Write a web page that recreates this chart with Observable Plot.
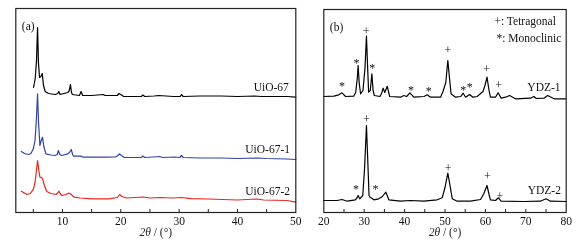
<!DOCTYPE html>
<html><head><meta charset="utf-8">
<script src="https://cdn.jsdelivr.net/npm/d3@7"></script>
<script src="https://cdn.jsdelivr.net/npm/@observablehq/plot@0.6"></script>
<style>
body{margin:0;background:#fff;}
#wrap{position:relative;width:577px;height:245px;overflow:hidden;}
#a{position:absolute;left:0;top:0;}
#b{position:absolute;left:310px;top:0;}
svg{will-change:transform;}
</style></head><body><div id="wrap"><div id="a"></div><div id="b"></div></div>
<script>
// ---------- Panel (a): UiO-67 series, [2θ, intensity (a.u., stacked)] ----------
const uio67 = [[5.04,125],[5.33,134],[5.55,152],[5.73,185],[5.88,150],[6.07,135],[6.3,136],[6.53,139],[6.75,127],[7.04,121],[7.6,119],[8.75,118],[9.2,119],[9.38,121],[9.6,118],[10.9,120],[11.1,121],[11.2,123],[11.37,128],[11.55,120],[11.7,118],[12.9,117],[13.2,121],[13.45,117],[15,117],[17.0,118],[17.3,117],[19.4,117],[19.7,119],[20.0,118],[20.5,116],[23.5,116],[23.8,117.5],[24.1,116],[25.7,116.5],[26.5,117],[29,116],[30.2,116],[30.4,118],[30.7,116],[33.5,116.5],[37.2,116.5],[40,116],[43,116.5],[44,116],[48.5,116],[50,115.3]];
const uio67_1 = [[2.94,61],[3.5,59],[4.2,58],[4.6,59],[5.0,63.7],[5.3,72],[5.5,90],[5.73,118.7],[5.9,90],[6.13,67],[6.35,72],[6.58,75.3],[6.8,66],[7.16,58.7],[8,57.5],[8.75,57],[9.1,58],[9.3,62],[9.55,58],[9.9,57],[10.9,58.7],[11.2,60],[11.5,63],[11.75,58],[11.9,56.3],[13.2,56.5],[13.5,55.3],[15,55.5],[17.4,55.3],[19.1,55.5],[19.5,57],[19.75,58.7],[20.1,57],[20.6,55],[23.5,55],[23.8,56.5],[24.1,55],[25.5,55.5],[26.7,56],[27.2,55],[29.2,55.5],[30.1,55],[30.4,57],[30.7,55],[33.5,54.5],[37.2,54.5],[40,54],[43.3,54.5],[45,54],[48.5,53.5],[50,53]];
const uio67_2 = [[2.94,21.3],[3.9,18],[4.5,19],[5.04,23.7],[5.3,30],[5.5,40],[5.73,52],[5.95,42],[6.13,35.3],[6.4,35],[6.6,33.7],[6.9,27],[7.3,21],[8,19],[8.9,18],[9.2,19.5],[9.4,21.3],[9.65,18.5],[9.9,17],[10.6,18],[11.03,19.3],[11.3,19],[11.6,17.5],[12,15.3],[13,14.5],[15,13.7],[18,13.7],[19.4,15],[19.8,18],[20.2,16],[21,14.5],[23.8,15.5],[25,14.5],[26.7,15],[29,14.5],[30.4,15],[32,13.8],[35,13.5],[40,12.5],[43.3,13.5],[44.5,12.5],[48.5,12],[50,10.3]];
const namesA = ["UiO-67", "UiO-67-1", "UiO-67-2"];
const colorsA = ["#000000", "#3243a3", "#e8261f"];
const labelPosA = [[48.8,125],[49.0,63],[49.0,21.3]];
const ticksMajorA = [10, 20, 30, 40, 50];
const ticksMinorA = [5, 10, 15, 20, 25, 30, 35, 40, 45];

// ---------- Panel (b): YDZ series ----------
const ydz1 = [[20,116],[22.5,116.3],[23.7,117.7],[24.5,119.7],[25.4,116],[27.4,116.3],[27.9,120],[28.3,135],[28.5,147],[28.75,130],[29.1,118.7],[29.7,122],[30.2,145],[30.56,176.3],[30.85,145],[31.1,120.3],[31.5,122],[31.9,138.7],[32.2,122],[32.5,117],[33.9,116],[34.3,119],[34.7,124.3],[35.1,120],[35.7,126.3],[36.3,116],[39,115.3],[39.8,117],[40.5,116],[41.3,119.7],[42.3,115.3],[44.8,116],[45.6,117.7],[46.4,115.3],[48.9,115.3],[49.5,121],[50.2,130],[50.7,152],[51.1,135],[51.5,118.7],[52.6,115.3],[53.9,116],[54.5,119.3],[55.1,115.3],[56.1,118],[56.9,115.3],[57.95,116],[59.4,121],[59.9,127],[60.4,135.3],[60.9,122],[61.25,115.3],[62.5,115.3],[63.15,119.7],[63.9,114.3],[65,115.3],[66,117],[67.4,113.7],[71.2,114.3],[72,116],[72.6,114],[74.5,114.3],[75.4,117],[77,113.7],[80,113.7]];
const ydz2 = [[20,12],[23.3,12],[24.5,13],[25.8,11.3],[27.8,12.7],[28.2,14.5],[28.5,17],[28.9,13.7],[29.65,17],[30.1,45],[30.56,87],[30.9,50],[31.2,17],[31.5,15],[31.7,14.7],[32.4,12.7],[33.6,13.7],[34.5,16],[35.35,20.3],[35.7,17],[36.1,12.7],[39,11.3],[41.5,12],[44.75,11.3],[48.05,12.7],[49.3,14.7],[50,25],[50.7,39.3],[51.2,28],[51.8,13.7],[53,11.3],[56.3,11.3],[58.8,13],[59.6,18.7],[60.4,27],[60.9,18],[61.25,12.7],[62.5,12],[63.2,14.7],[63.9,11.3],[69.5,11],[73.6,11.3],[75,13.7],[76.1,11.3],[80,11]];
const namesB = ["YDZ-1", "YDZ-2"];
const labelPosB = [[78.6,125],[78.7,22]];
// phase markers: [2θ, height, symbol]
const markersB = [[24.5,126,"*"],[28.1,149.7,"*"],[30.5,181.3,"+"],[32.0,144.7,"*"],[41.6,122,"*"],[46,121,"*"],[50.7,162.7,"+"],[54.5,122,"*"],[56.1,125.3,"*"],[60.3,143,"+"],[63.3,127,"+"],
                  [28.0,23.3,"*"],[30.56,93.3,"+"],[32.8,23,"*"],[50.75,44.7,"+"],[60.5,36,"+"],[63.6,16.2,"+"]];
const legendB = [[62.25,191,"+: Tetragonal"],[62.75,173.7,"*: Monoclinic"]];
const ticksMajorB = [20, 30, 40, 50, 60, 70, 80];
const ticksMinorB = [25, 30, 35, 40, 45, 50, 55, 60, 65, 70, 75];

const FONT = "Liberation Serif, Times New Roman, serif";
const XLABEL = "2θ / (°)";
const rows = (arr) => arr.map(([x, y]) => ({x, y}));

function panel({width, ml, mr, mt, mb, xdom, ydom, major, minor, series, labels, tag, extra}) {
  const marks = [];
  series.forEach(s => marks.push(Plot.line(rows(s.data), {x: "x", y: "y", stroke: s.color, strokeWidth: 1.2, curve: "linear"})));
  labels.forEach(l => marks.push(Plot.text([l], {x: d => d.x, y: d => d.y, text: d => d.t, textAnchor: "end", fontSize: 11.5, fill: "#111"})));
  marks.push(Plot.text([tag], {frameAnchor: "top-left", dx: 6, dy: 13, fontSize: 11.5, textAnchor: "start", fill: "#111"}));
  marks.push(...extra);
  marks.push(Plot.frame({stroke: "#222", strokeWidth: 1.2}));
  marks.push(Plot.axisX({ticks: minor, tickSize: -3, text: null, label: null, stroke: "#222"}));
  marks.push(Plot.axisX({ticks: major, tickSize: 0, tickPadding: 4, fontSize: 11.5, label: null, tickFormat: d => String(d)}));
  marks.push(Plot.text([XLABEL], {frameAnchor: "bottom", dy: 20, fontSize: 11.5, lineAnchor: "middle", fill: "#222"}));
  return Plot.plot({
    width, height: 245, marginLeft: ml, marginRight: mr, marginTop: mt, marginBottom: mb,
    x: {domain: xdom}, y: {domain: ydom, axis: null},
    style: {fontFamily: FONT, fontSize: "11.5px", background: "transparent", color: "#111"},
    marks
  });
}

const plotA = panel({
  width: 310, ml: 15.3, mr: 14.7, mt: 8, mb: 33, xdom: [2, 50], ydom: [0, 204],
  major: ticksMajorA, minor: ticksMinorA,
  series: [uio67, uio67_1, uio67_2].map((data, i) => ({data, color: colorsA[i]})),
  labels: namesA.map((t, i) => ({x: labelPosA[i][0], y: labelPosA[i][1], t})),
  tag: "(a)", extra: []
});
const plotB = panel({
  width: 267, ml: 13.3, mr: 11.3, mt: 9, mb: 33, xdom: [20, 80], ydom: [0, 203],
  major: ticksMajorB, minor: ticksMinorB,
  series: [ydz1, ydz2].map(data => ({data, color: "#000"})),
  labels: namesB.map((t, i) => ({x: labelPosB[i][0], y: labelPosB[i][1], t})),
  tag: "(b)",
  extra: [
    Plot.text(markersB, {x: d => d[0], y: d => d[1], text: d => d[2], fontSize: 12, fill: "#111"}),
    Plot.text(legendB, {x: d => d[0], y: d => d[1], text: d => d[2], textAnchor: "start", fontSize: 11.5, fill: "#111"})
  ]
});
document.getElementById("a").appendChild(plotA);
document.getElementById("b").appendChild(plotB);
// italic 2θ in axis titles
d3.selectAll("svg text").each(function() {
  if (this.textContent === XLABEL) {
    const el = d3.select(this);
    el.text(null);
    el.append("tspan").attr("font-style", "italic").text("2θ");
    el.append("tspan").text(" / (°)");
  }
});
</script></body></html>
